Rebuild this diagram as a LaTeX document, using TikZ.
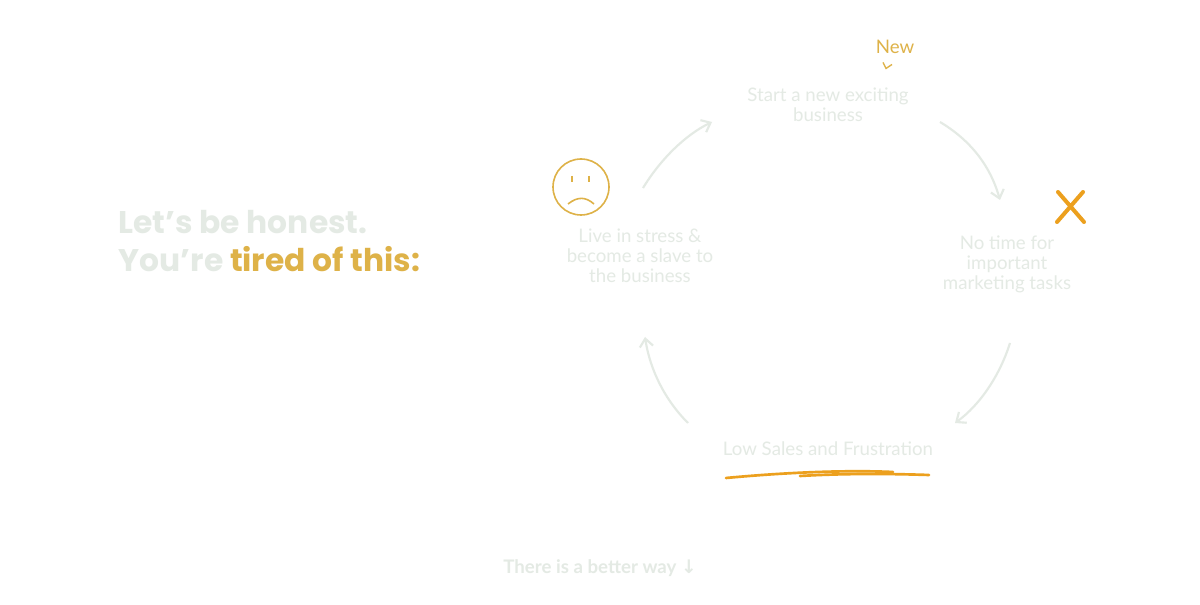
\documentclass[tikz,border=0pt]{standalone}
\usepackage{fontspec}
\setmainfont{Poppins}
\newfontfamily\hand{Lato}
\newfontfamily\djv{DejaVu Sans}
\usetikzlibrary{arrows.meta}
\definecolor{ghost}{RGB}{228,234,228}
\definecolor{gold}{RGB}{222,178,72}
\definecolor{orng}{RGB}{236,160,30}
\tikzset{
  lbl/.style={text=ghost,font=\hand\fontsize{14}{15}\selectfont,align=center},
  arr/.style={draw=ghost,line width=1.6pt,-{Straight Barb[length=6pt,width=10pt]}}
}
\begin{document}
\begin{tikzpicture}[x=0.75pt,y=-0.75pt]
\useasboundingbox[fill=white] (0,0) rectangle (1200,605);
\node[anchor=west,font=\bfseries\fontsize{23.5}{28}\selectfont,text=ghost,align=left] (title) at (114,241)
 {Let's be honest.\\You're \textcolor{gold}{tired of this:}};
\node[lbl] (start) at (828,105) {Start a new exciting\\business};
\node[font=\hand\fontsize{14}{16}\selectfont,text=gold] (new) at (895,47) {New};
\draw[gold,line width=1pt] (new.south)++(-12,4) -- ++(3,6) -- ++(6,-4);
\node[lbl] (notime) at (1007,264) {No time for\\important\\marketing tasks};
\node[lbl] (low) at (828,449) {Low Sales and Frustration};
\node[lbl] (live) at (640,256) {Live in stress \&\\become a slave to\\the business};
\node[draw=gold,line width=1.2pt,circle,minimum size=42pt] (sad) at (581,187) {};
\draw[gold,line width=1.2pt] (572,176)--(572,182) (589,176)--(589,182);
\draw[gold,line width=1.2pt] (568,204) .. controls (578,196) and (586,197) .. (594,204);
\node (x) at (1071,207) {};
\draw[orng,line width=3pt,line cap=round] (1058,192)--(1084,222) (1083,192)--(1057,222);
\draw[orng,line width=2pt,line cap=round] (726,478) .. controls (790,472) and (850,470) .. (893,472);
\draw[orng,line width=2pt,line cap=round] (800,476) .. controls (850,473) and (900,474) .. (929,475);
\draw[arr] (643,188) .. controls (660,160) and (685,135) .. (712,122);
\draw[arr] (940,122) .. controls (970,140) and (990,165) .. (1000,200);
\draw[arr] (1010,343) .. controls (1000,375) and (980,405) .. (955,423);
\draw[arr] (688,423) .. controls (665,400) and (650,370) .. (645,337);
\node[text=ghost,font=\hand\bfseries\fontsize{14}{15}\selectfont] (better) at (600,568) {There is a better way {\djv↓}};
\end{tikzpicture}
\end{document}
